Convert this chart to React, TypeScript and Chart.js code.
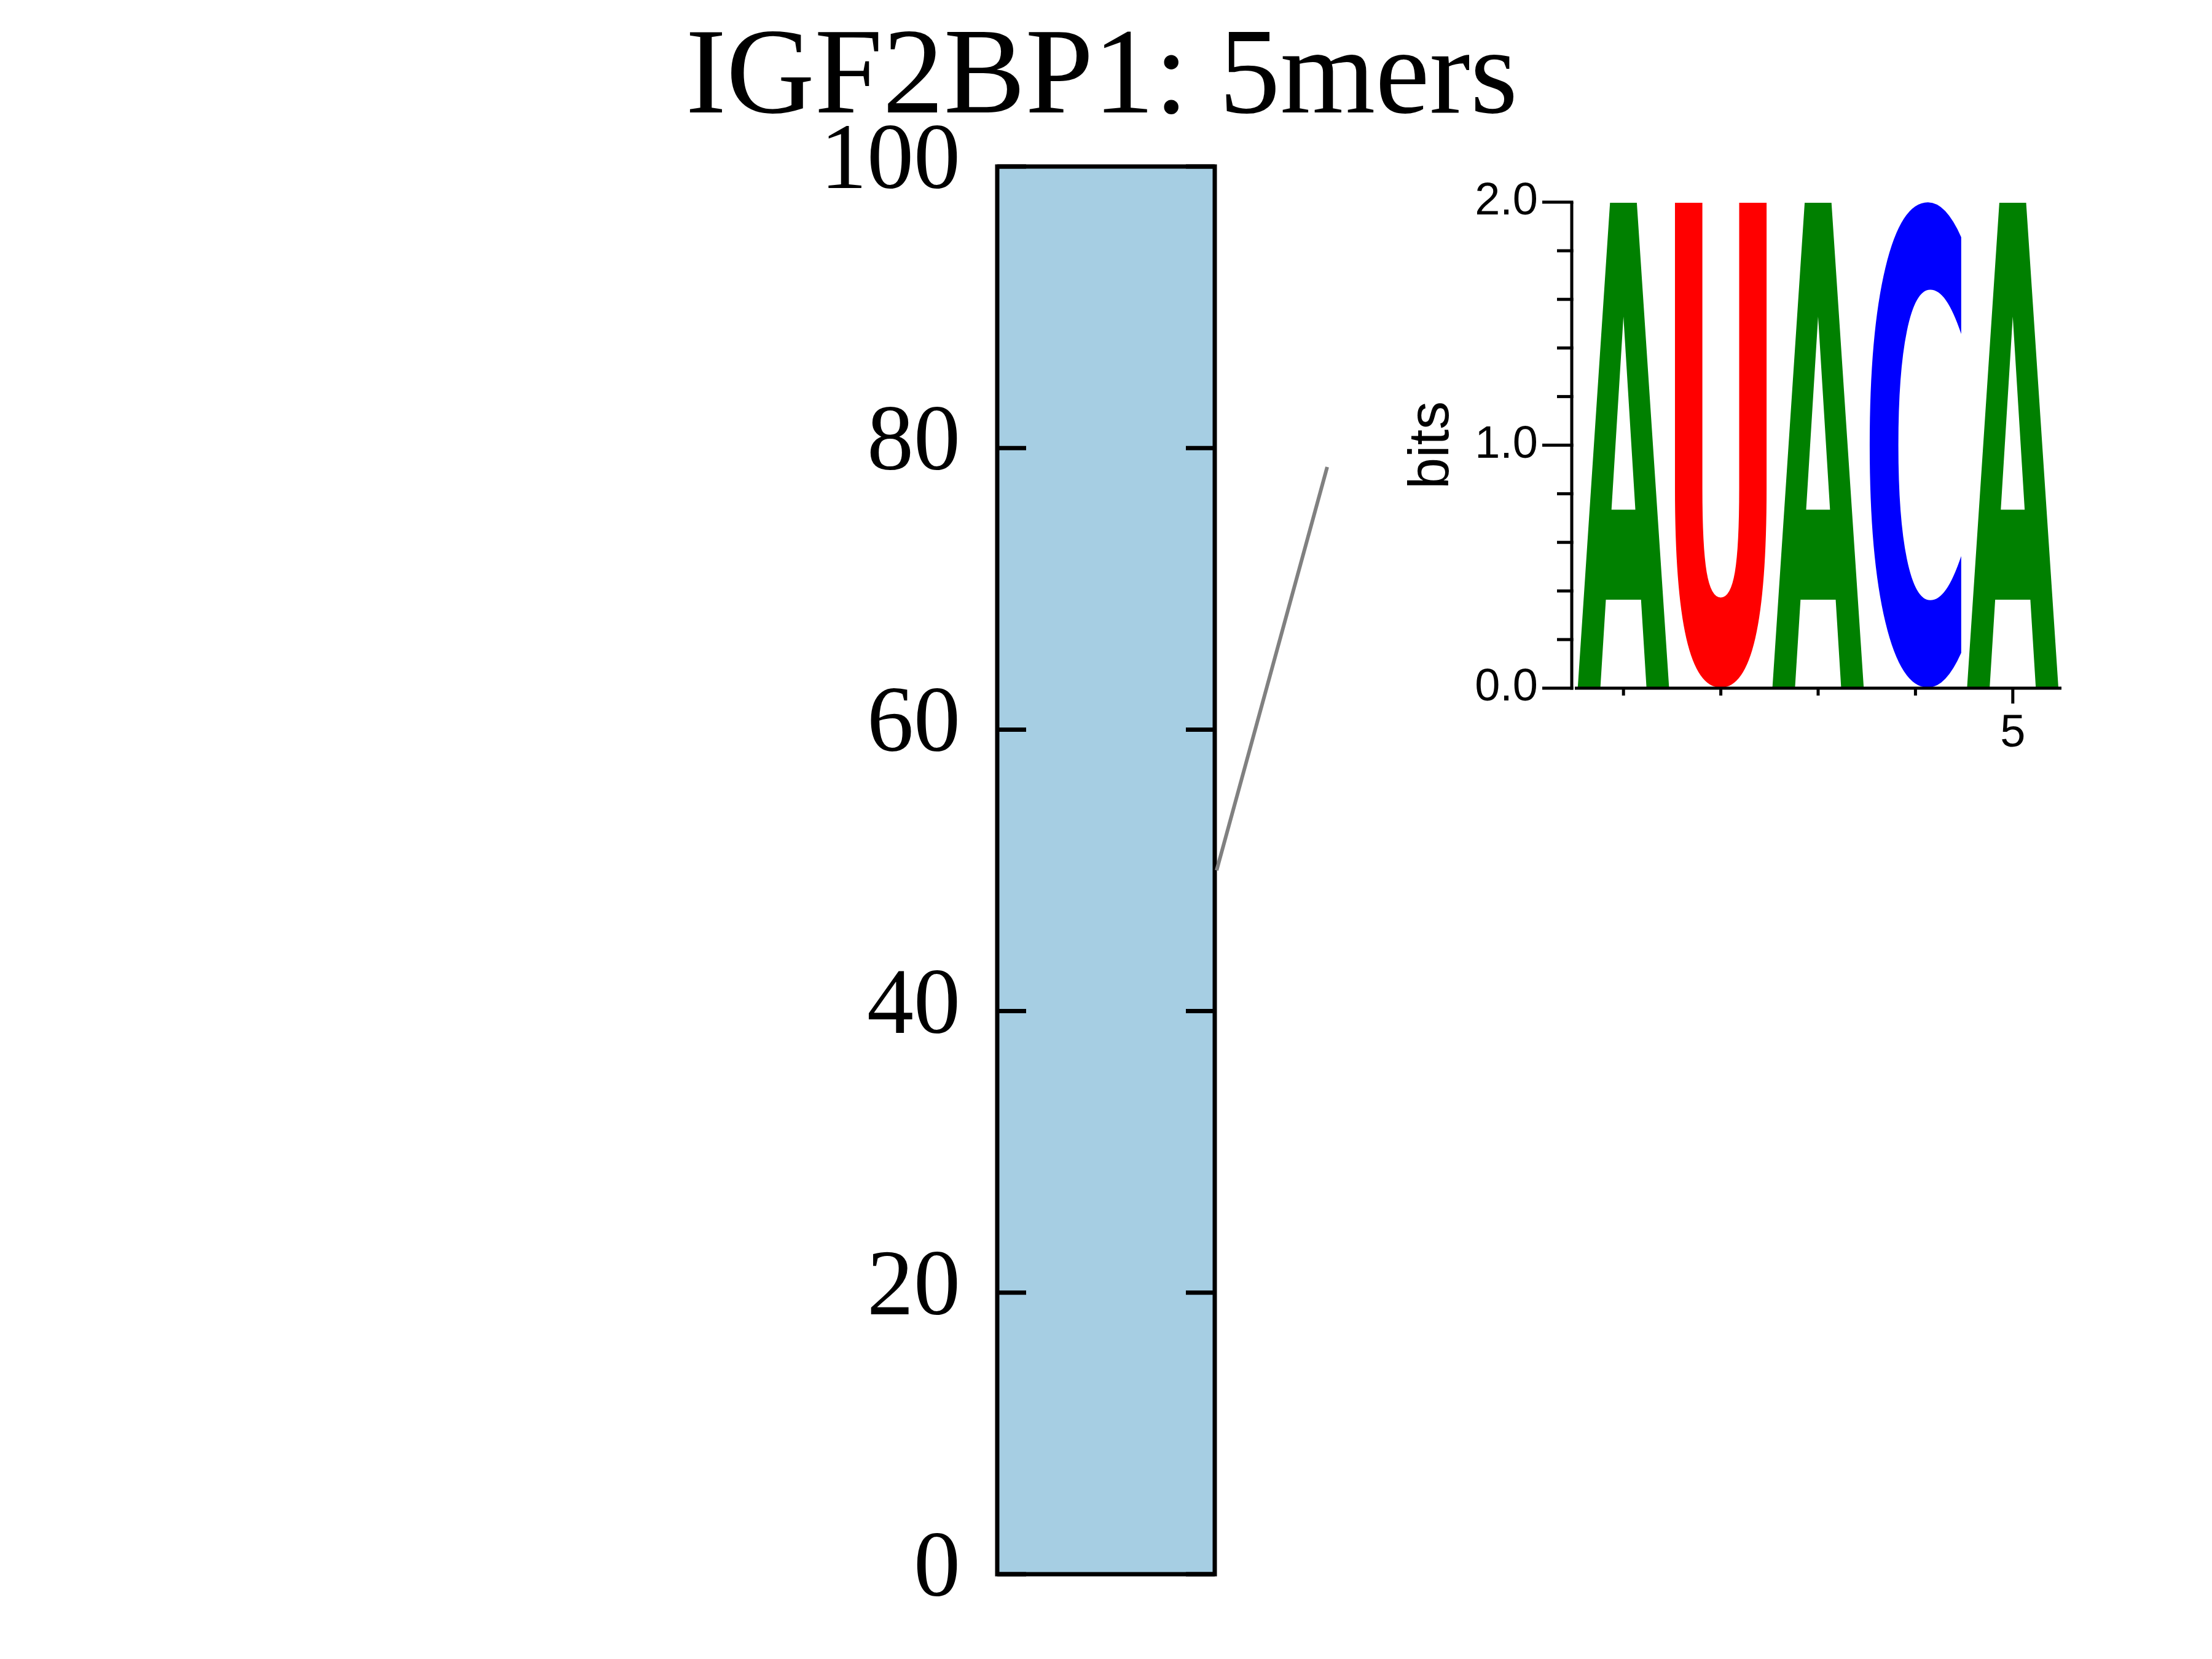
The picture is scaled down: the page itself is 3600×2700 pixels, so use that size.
import React, { useEffect, useRef } from "react";
import { Chart, registerables } from "chart.js";

Chart.register(...registerables);

// ---------- data ----------
const TITLE = "IGF2BP1: 5mers";
const barCategories = ["IGF2BP1"];
const barValues = [100];
const barTickStep = 20;
const barMax = 100;
const connectorValue = 50;

const logoPositions = ["1", "2", "3", "4", "5"];
const logoLetters = ["A", "U", "A", "C", "A"];
const logoBits = [2, 2, 2, 2, 2];
const logoLabeledPositions = ["5"];
const logoMaxBits = 2;
const logoTickStep = 0.2;
const logoYLabel = "bits";

const letterColors: Record<string, string> = {
  A: "#008000",
  C: "#0000ff",
  G: "#ffa500",
  U: "#ff0000",
};

const LETTER_FONT = "bold 400px 'DejaVu Sans'";

// exact ink bounds of a glyph, measured once on a scratch canvas
const boundsCache: Record<string, { left: number; top: number; w: number; h: number }> = {};
function glyphBounds(letter: string) {
  if (boundsCache[letter]) return boundsCache[letter];
  const c = document.createElement("canvas");
  c.width = 800;
  c.height = 800;
  const g = c.getContext("2d")!;
  g.font = LETTER_FONT;
  g.textAlign = "left";
  g.textBaseline = "alphabetic";
  g.fillStyle = "#000";
  const ox = 150;
  const oy = 600;
  g.fillText(letter, ox, oy);
  const d = g.getImageData(0, 0, c.width, c.height).data;
  let minX = c.width, minY = c.height, maxX = -1, maxY = -1;
  for (let yy = 0; yy < c.height; yy++) {
    for (let xx = 0; xx < c.width; xx++) {
      if (d[(yy * c.width + xx) * 4 + 3] > 100) {
        if (xx < minX) minX = xx;
        if (xx > maxX) maxX = xx;
        if (yy < minY) minY = yy;
        if (yy > maxY) maxY = yy;
      }
    }
  }
  const b = { left: minX - ox, top: minY - oy, w: maxX - minX + 1, h: maxY - minY + 1 };
  boundsCache[letter] = b;
  return b;
}

// ---------- plugins ----------
const mainPlugin = {
  id: "mainFrame",
  afterDraw(chart: any) {
    const { ctx, chartArea: a, scales } = chart;
    const y = scales.y;
    ctx.save();
    ctx.strokeStyle = "#000";
    ctx.lineWidth = 7;
    ctx.lineCap = "butt";
    ctx.strokeRect(a.left, a.top, a.right - a.left, a.bottom - a.top);
    y.ticks.forEach((t: any) => {
      const py = y.getPixelForValue(t.value);
      ctx.beginPath();
      ctx.moveTo(a.left, py);
      ctx.lineTo(a.left + 47, py);
      ctx.moveTo(a.right - 47, py);
      ctx.lineTo(a.right, py);
      ctx.stroke();
    });
    // connector to the logo
    ctx.strokeStyle = "#808080";
    ctx.lineWidth = 6;
    ctx.beginPath();
    ctx.moveTo(a.right + 3, y.getPixelForValue(connectorValue));
    ctx.lineTo(2160, 760);
    ctx.stroke();
    // title
    ctx.fillStyle = "#000";
    ctx.font = "199px 'Liberation Serif'";
    ctx.textAlign = "center";
    ctx.textBaseline = "alphabetic";
    ctx.fillText(TITLE, chart.width / 2 - 7, 183);
    ctx.restore();
  },
};

const logoPlugin = {
  id: "logoLetters",
  afterDatasetsDraw(chart: any) {
    const ctx = chart.ctx;
    const meta = chart.getDatasetMeta(0);
    meta.data.forEach((bar: any, i: number) => {
      const { x, y, base, width } = bar.getProps(["x", "y", "base", "width"], true);
      const letter = logoLetters[i];
      const left = x - width / 2;
      const top = Math.min(y, base);
      const h = Math.abs(base - y);
      const b = glyphBounds(letter);
      ctx.save();
      ctx.font = LETTER_FONT;
      ctx.textAlign = "left";
      ctx.textBaseline = "alphabetic";
      ctx.translate(left, top);
      ctx.scale(width / b.w, h / b.h);
      ctx.fillStyle = letterColors[letter] || "#000";
      ctx.fillText(letter, -b.left, -b.top);
      ctx.restore();
    });
  },
  afterDraw(chart: any) {
    const { ctx, chartArea: a, scales } = chart;
    const xs = scales.x;
    const ys = scales.y;
    const sx = a.left - 5;
    ctx.save();
    ctx.strokeStyle = "#000";
    ctx.lineWidth = 5;
    ctx.lineCap = "butt";
    ctx.beginPath();
    ctx.moveTo(sx, a.top);
    ctx.lineTo(sx, a.bottom + 2.5);
    ctx.moveTo(a.left, a.bottom);
    ctx.lineTo(a.right, a.bottom);
    ctx.stroke();
    ys.ticks.forEach((t: any) => {
      const py = ys.getPixelForValue(t.value);
      const major = Math.abs(t.value - Math.round(t.value)) < 1e-6;
      const len = major ? 48 : 24;
      ctx.beginPath();
      ctx.moveTo(sx - len, py);
      ctx.lineTo(sx + 2.5, py);
      ctx.stroke();
    });
    xs.ticks.forEach((t: any, i: number) => {
      const px = xs.getPixelForTick(i);
      const major = logoLabeledPositions.includes(logoPositions[i]);
      const len = major ? 25 : 12;
      ctx.beginPath();
      ctx.moveTo(px, a.bottom);
      ctx.lineTo(px, a.bottom + len);
      ctx.stroke();
    });
    ctx.restore();
  },
};

// ---------- components ----------
function MainChart() {
  const ref = useRef<HTMLCanvasElement | null>(null);
  useEffect(() => {
    if (!ref.current) return;
    const chart = new Chart(ref.current, {
      type: "bar",
      data: {
        labels: barCategories,
        datasets: [
          {
            data: barValues,
            backgroundColor: "#a6cee3",
            borderColor: "#3f5f70",
            borderWidth: 2,
            borderSkipped: false,
            barPercentage: 1,
            categoryPercentage: 1,
          },
        ],
      },
      options: {
        responsive: false,
        animation: false,
        devicePixelRatio: 1,
        layout: { padding: { left: 1323, right: 1623, top: 271, bottom: 138 } },
        plugins: { legend: { display: false }, title: { display: false }, tooltip: { enabled: false } },
        scales: {
          x: { display: false, stacked: true },
          y: {
            stacked: true,
            min: 0,
            max: barMax,
            grid: { display: false, drawTicks: false },
            border: { display: false },
            ticks: {
              stepSize: barTickStep,
              color: "#000",
              padding: 60,
              labelOffset: -5,
              font: { family: "'Liberation Serif'", size: 152, lineHeight: 0.8 },
            },
            afterFit: (s: any) => {
              s.width = 300;
            },
          },
        },
      },
      plugins: [mainPlugin],
    } as any);
    return () => chart.destroy();
  }, []);
  return (
    <canvas
      ref={ref}
      width={3600}
      height={2700}
      style={{ position: "absolute", left: 0, top: 0, width: 3600, height: 2700 }}
    />
  );
}

function LogoChart() {
  const ref = useRef<HTMLCanvasElement | null>(null);
  useEffect(() => {
    if (!ref.current) return;
    const chart = new Chart(ref.current, {
      type: "bar",
      data: {
        labels: logoPositions,
        datasets: [
          {
            data: logoBits,
            backgroundColor: "rgba(0,0,0,0)",
            borderWidth: 0,
            barPercentage: 0.94,
            categoryPercentage: 1,
          },
        ],
      },
      options: {
        responsive: false,
        animation: false,
        devicePixelRatio: 1,
        layout: { padding: { left: 76, right: 145, top: 129, bottom: 60 } },
        plugins: { legend: { display: false }, title: { display: false }, tooltip: { enabled: false } },
        scales: {
          x: {
            type: "category",
            offset: true,
            grid: { display: false, drawTicks: false },
            border: { display: false },
            ticks: {
              autoSkip: false,
              maxRotation: 0,
              color: "#000",
              padding: 30,
              font: { family: "'Liberation Sans'", size: 74 },
              callback: (_v: any, i: number) =>
                logoLabeledPositions.includes(logoPositions[i]) ? logoPositions[i] : "",
            },
            afterFit: (s: any) => {
              s.height = 120;
            },
          },
          y: {
            min: 0,
            max: logoMaxBits,
            grid: { display: false, drawTicks: false },
            border: { display: false },
            ticks: {
              stepSize: logoTickStep,
              autoSkip: false,
              color: "#000",
              padding: 60,
              font: { family: "'Liberation Sans'", size: 74 },
              callback: (v: any) => {
                const n = Number(v);
                return Math.abs(n - Math.round(n)) < 1e-6 ? n.toFixed(1) : "";
              },
            },
            title: {
              display: true,
              text: logoYLabel,
              color: "#000",
              padding: 0,
              font: { family: "'Liberation Sans'", size: 92 },
            },
            afterFit: (s: any) => {
              s.width = 287;
            },
          },
        },
      },
      plugins: [logoPlugin],
    } as any);
    return () => chart.destroy();
  }, []);
  return (
    <canvas
      ref={ref}
      width={1300}
      height={1100}
      style={{ position: "absolute", left: 2200, top: 200, width: 1300, height: 1100 }}
    />
  );
}

export default function App() {
  return (
    <div
      style={{
        position: "absolute",
        left: 0,
        top: 0,
        width: 3600,
        height: 2700,
        background: "#fff",
        overflow: "hidden",
      }}
    >
      <MainChart />
      <LogoChart />
    </div>
  );
}
